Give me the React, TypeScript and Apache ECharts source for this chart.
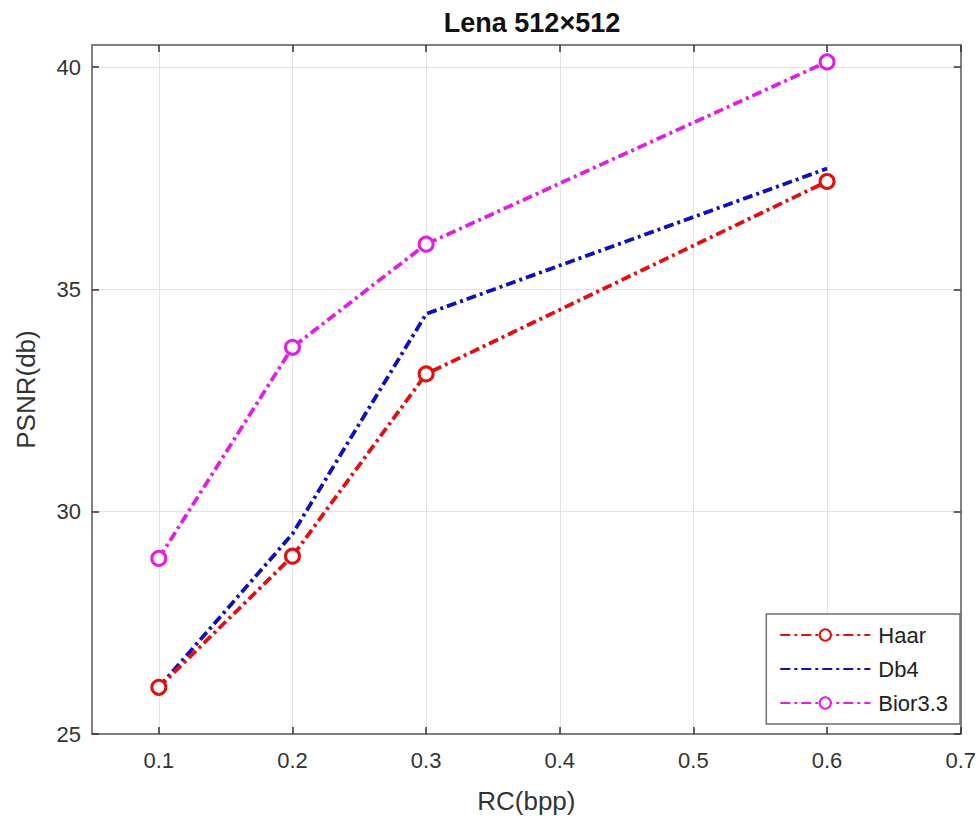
import React, { useEffect, useRef } from "react";
import * as echarts from "echarts";

const xValues = [0.1, 0.2, 0.3, 0.6];
const haar = [26.05, 29.0, 33.1, 37.43];
const db4 = [26.05, 29.5, 34.45, 37.72];
const bior = [28.95, 33.7, 36.02, 40.12];
const xTicks = [0.1, 0.2, 0.3, 0.4, 0.5, 0.6, 0.7];
const yTicks = [25, 30, 35, 40];

const FONT = "'Liberation Sans', Arial, sans-serif";
const DASH = [10, 4, 3, 4];

export default function App() {
  const ref = useRef<HTMLDivElement>(null);
  useEffect(() => {
    const chart = echarts.init(ref.current!, null, { renderer: "svg" });
    const pair = (ys: number[]) => xValues.map((x, i) => [x, ys[i]]);
    const axisLineStyle = { color: "#808080", width: 2 };
    chart.setOption({
      animation: false,
      backgroundColor: "#ffffff",
      title: {
        text: "Lena 512×512",
        left: 527,
        textAlign: "center",
        top: 4,
        textStyle: { fontFamily: FONT, fontWeight: "bold", fontSize: 27, color: "#111" },
      },
      grid: { left: 92, right: 18, top: 45, bottom: 91 },
      legend: {
        orient: "vertical",
        right: 19,
        top: 614,
        itemWidth: 90,
        itemHeight: 14,
        itemGap: 12,
        padding: [10, 12, 10, 13],
        backgroundColor: "#ffffff",
        borderColor: "#6f6f6f",
        borderWidth: 1.5,
        textStyle: { fontFamily: FONT, fontSize: 22, color: "#222", padding: [0, 0, 0, 3] },
        data: ["Haar", "Db4", "Bior3.3"],
      },
      xAxis: [
        {
          type: "value",
          min: 0.05,
          max: 0.7,
          name: "RC(bpp)",
          nameLocation: "middle",
          nameGap: 54,
          nameTextStyle: { fontFamily: FONT, fontSize: 26, color: "#333" },
          axisLine: { lineStyle: axisLineStyle },
          axisTick: { inside: true, length: 7, customValues: xTicks, lineStyle: { color: "#333", width: 1.5 } },
          axisLabel: {
            customValues: xTicks,
            margin: 15,
            fontFamily: FONT,
            fontSize: 22,
            color: "#333",
            formatter: (v: number) => v.toFixed(1),
          },
          splitLine: { show: true, lineStyle: { color: "#e3e3e3", width: 1 } },
        },
        {
          type: "value",
          position: "top",
          min: 0.05,
          max: 0.7,
          axisLine: { lineStyle: axisLineStyle },
          axisTick: { inside: true, length: 7, customValues: xTicks, lineStyle: { color: "#333", width: 1.5 } },
          axisLabel: { show: false },
          splitLine: { show: false },
        },
      ],
      yAxis: [
        {
          type: "value",
          min: 25,
          max: 40.5,
          interval: 5,
          name: "PSNR(db)",
          nameLocation: "middle",
          nameGap: 53,
          nameTextStyle: { fontFamily: FONT, fontSize: 26, color: "#333" },
          axisLine: { show: true, lineStyle: axisLineStyle },
          axisTick: { show: true, inside: true, length: 7, customValues: yTicks, lineStyle: { color: "#333", width: 1.5 } },
          axisLabel: {
            customValues: yTicks,
            margin: 11,
            fontFamily: FONT,
            fontSize: 22,
            color: "#333",
          },
          splitLine: { show: true, lineStyle: { color: "#e3e3e3", width: 1 } },
        },
        {
          type: "value",
          position: "right",
          min: 25,
          max: 40.5,
          interval: 5,
          axisLine: { show: true, lineStyle: axisLineStyle },
          axisTick: { show: true, inside: true, length: 7, customValues: yTicks, lineStyle: { color: "#333", width: 1.5 } },
          axisLabel: { show: false },
          splitLine: { show: false },
        },
      ],
      series: [
        {
          name: "Haar",
          type: "line",
          data: pair(haar),
          symbol: "circle",
          symbolSize: 14,
          lineStyle: { color: "#e01010", width: 3.8, type: DASH },
          itemStyle: { color: "#ffffff", borderColor: "#e01010", borderWidth: 3 },
          z: 3,
        },
        {
          name: "Db4",
          type: "line",
          data: pair(db4),
          symbol: "none",
          lineStyle: { color: "#1010b8", width: 3.8, type: DASH },
          itemStyle: { color: "#1010b8", opacity: 0 },
          z: 2,
        },
        {
          name: "Bior3.3",
          type: "line",
          data: pair(bior),
          symbol: "circle",
          symbolSize: 14,
          lineStyle: { color: "#e020e0", width: 3.8, type: DASH },
          itemStyle: { color: "#ffffff", borderColor: "#e020e0", borderWidth: 3 },
          z: 4,
        },
      ],
    });
    return () => chart.dispose();
  }, []);
  return <div ref={ref} style={{ width: 979, height: 825, position: "absolute", left: 0, top: 0 }} />;
}
